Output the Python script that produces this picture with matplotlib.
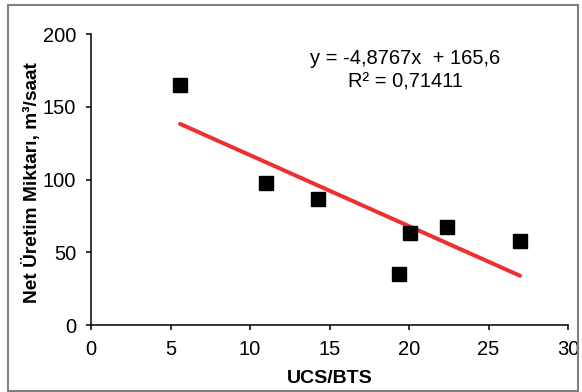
import matplotlib
matplotlib.use("Agg")
import matplotlib.pyplot as plt
from matplotlib.patches import Rectangle
import numpy as np

# data
ucs_bts = [5.6, 10.98, 14.3, 19.35, 20.04, 22.4, 26.98]
net_uretim = [165.0, 98.0, 87.0, 35.2, 63.1, 67.7, 57.9]
slope, intercept = -4.8767, 165.6
eq_lines = ["y = -4,8767x  + 165,6", "R² = 0,71411"]
x_ticks = [0, 5, 10, 15, 20, 25, 30]
y_ticks = [0, 50, 100, 150, 200]

plt.rcParams["font.family"] = ["Liberation Sans", "DejaVu Sans"]

W, H = 582, 392
fig = plt.figure(figsize=(W / 100, H / 100), dpi=100)
ax = fig.add_axes([91 / W, 1 - 325.3 / H, (568 - 91) / W, (325.3 - 34) / H])

ax.plot(ucs_bts, net_uretim, "s", color="black", markersize=9.5, zorder=3)
xs = np.array([min(ucs_bts), max(ucs_bts)])
ax.plot(xs, slope * xs + intercept, color="#EE3030", lw=2.9, solid_capstyle="round", zorder=2)

ax.set_xlim(0, 30)
ax.set_ylim(0, 200)
ax.set_xticks(x_ticks)
ax.set_yticks(y_ticks)
for s in ("top", "right"):
    ax.spines[s].set_visible(False)
for s in ("left", "bottom"):
    ax.spines[s].set_linewidth(1.1)
ax.tick_params(direction="out", length=3.6, width=1.1, labelsize=14.5, pad=7)

ax.set_xlabel("UCS/BTS", fontsize=14, weight="bold", labelpad=8)
ax.set_ylabel("Net Üretim Miktarı, m³/saat", fontsize=13.8, weight="bold", va="center")
ax.yaxis.set_label_coords(-0.124, 0.49)

ax.text(19.78, 183.5, eq_lines[0], ha="center", va="center", fontsize=14.5)
ax.text(19.78, 167.0, eq_lines[1], ha="center", va="center", fontsize=14.5)

# chart-area border
fig.add_artist(Rectangle((8 / W, 1.5 / H), (578 - 8) / W, (387.5 - 1.5) / H,
                         transform=fig.transFigure, fill=False,
                         edgecolor="#808080", lw=1.5))

fig.savefig("out.png", dpi=100)
